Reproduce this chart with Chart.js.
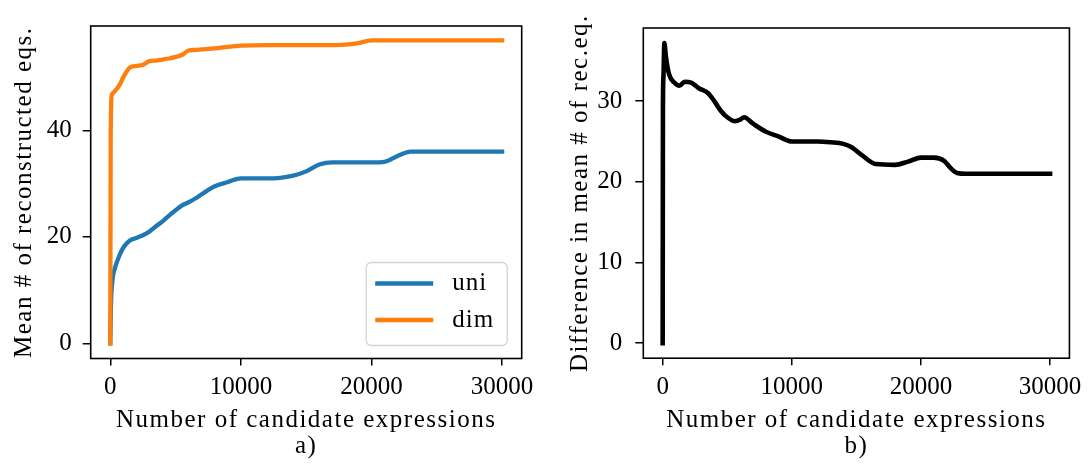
<!DOCTYPE html>
<html><head><meta charset="utf-8">
<script src="https://cdn.jsdelivr.net/npm/chart.js@4/dist/chart.umd.min.js"></script>
<style>
html,body{margin:0;padding:0;background:#fff;}
#wrap{position:relative;width:1089px;height:464px;overflow:hidden;background:#fff;}
canvas{position:absolute;top:0;}
</style></head><body>
<div id="wrap">
<canvas id="ca" width="545" height="464" style="left:0px"></canvas>
<canvas id="cb" width="544" height="464" style="left:545px"></canvas>
</div>
<script>
// ---- data ----
const uniX = [0, 50, 100, 200, 400, 700, 1000, 1500, 2000, 2500, 3000, 3500, 4000, 4500, 5000, 5500, 6000, 6500, 7000, 8000, 9000, 10000, 11000, 12000, 13000, 14000, 15000, 16000, 17000, 18000, 19000, 20000, 21000, 22000, 23000, 25000, 30000];
const uniY = [0, 7, 10, 12.5, 14.5, 16.5, 18, 19.3, 19.8, 20.3, 21, 22, 22.9, 24, 25, 25.9, 26.5, 27.2, 28, 29.5, 30.3, 31, 31, 31, 31.1, 31.5, 32.3, 33.6, 34, 34, 34, 34, 34.1, 35.2, 36, 36, 36];

const dimX = [0, 30, 100, 200, 400, 700, 1000, 1500, 2000, 2500, 3000, 3500, 4000, 4500, 5000, 5500, 6000, 6500, 7000, 8000, 9000, 10000, 12000, 14000, 16000, 18000, 19000, 20000, 22000, 25000, 30000];
const dimY = [0, 38, 46.5, 47, 47.5, 48.5, 50, 51.8, 52.1, 52.3, 53, 53.1, 53.3, 53.5, 53.8, 54.2, 55, 55.1, 55.2, 55.4, 55.7, 55.9, 56, 56, 56, 56.1, 56.4, 56.9, 56.9, 56.9, 56.9];

const diffX = [0, 20, 60, 130, 250, 500, 900, 1300, 1700, 2200, 2800, 3500, 4000, 4500, 5000, 5600, 6000, 6300, 7000, 8000, 9000, 10000, 12000, 13000, 14000, 14600, 15500, 16500, 18000, 19000, 20000, 21000, 21800, 22300, 22800, 23500, 30000];
const diffY = [0, 29, 33, 37.2, 35.5, 33.3, 32.3, 31.9, 32.4, 32.3, 31.6, 31.0, 30.0, 28.8, 28.0, 27.5, 27.7, 28.0, 27.2, 26.2, 25.6, 25.0, 25.0, 24.9, 24.7, 24.3, 23.2, 22.2, 22.1, 22.5, 23.0, 23.0, 22.6, 21.7, 21.1, 21.0, 21.0];

const xTicks = [0, 10000, 20000, 30000];
const yTicksA = [0, 20, 40];
const yTicksB = [0, 10, 20, 30];
const seriesNames = ['uni', 'dim'];
const xTitle = 'Number of candidate expressions';
const yTitleA = 'Mean # of reconstructed eqs.';
const yTitleB = 'Difference in mean # of rec.eq.';
const panelA = 'a)';
const panelB = 'b)';

// ---- rendering ----
const FONT = "'Liberation Serif', 'DejaVu Serif', serif";
const FS = 25;
Chart.defaults.font.family = FONT;
Chart.defaults.font.size = FS;
Chart.defaults.color = '#000';

// wider letter spacing for axis titles (reference font is wider than Times)
const _origDrawTitle = Chart.Scale.prototype.drawTitle;
Chart.Scale.prototype.drawTitle = function(){
  const ctx = this.ctx;
  ctx.save();
  try { ctx.letterSpacing = '1.5px'; } catch(e) {}
  _origDrawTitle.apply(this, arguments);
  ctx.restore();
};

function pts(xs, ys){ return xs.map((x,i)=>({x:x, y:ys[i]})); }

const framePlugin = {
  id: 'frame',
  afterDatasetsDraw(chart){
    const a = chart.chartArea, ctx = chart.ctx;
    ctx.save();
    ctx.strokeStyle = '#000';
    ctx.lineWidth = 1.6;
    ctx.strokeRect(a.left, a.top, a.right - a.left, a.bottom - a.top);
    ctx.restore();
  }
};

const legendPlugin = {
  id: 'mplLegend',
  afterDraw(chart, args, opts){
    if (!opts || !opts.show) return;
    const a = chart.chartArea, ctx = chart.ctx;
    const w = 141, h = 83;
    const x0 = a.right - 14.5 - w, y0 = a.bottom - 13 - h;
    ctx.save();
    ctx.beginPath();
    ctx.roundRect(x0, y0, w, h, 5);
    ctx.fillStyle = 'rgba(255,255,255,0.85)';
    ctx.fill();
    ctx.strokeStyle = '#d3d3d3';
    ctx.lineWidth = 1.3;
    ctx.stroke();
    const rows = [21, 57.5];
    chart.data.datasets.forEach((ds, i) => {
      const y = y0 + rows[i];
      ctx.beginPath();
      ctx.moveTo(x0 + 9, y);
      ctx.lineTo(x0 + 67, y);
      ctx.strokeStyle = ds.borderColor;
      ctx.lineWidth = 4.3;
      ctx.lineCap = 'butt';
      ctx.stroke();
      ctx.fillStyle = '#000';
      ctx.font = FS + 'px ' + FONT;
      try { ctx.letterSpacing = '1px'; } catch(e) {}
      ctx.textBaseline = 'middle';
      ctx.textAlign = 'left';
      ctx.fillText(ds.label, x0 + 86, y);
    });
    ctx.restore();
  }
};

function makeChart(id, datasets, cfg){
  return new Chart(document.getElementById(id), {
    type: 'line',
    data: { datasets: datasets },
    plugins: [framePlugin, legendPlugin],
    options: {
      responsive: false,
      animation: false,
      devicePixelRatio: 1,
      layout: { padding: { top: 23.3, right: cfg.padRight, left: 0, bottom: 0 } },
      plugins: { legend: { display: false }, tooltip: { enabled: false }, mplLegend: { show: cfg.legend } },
      elements: { point: { radius: 0 }, line: { borderWidth: 4.3, cubicInterpolationMode: 'monotone', borderCapStyle: 'square', borderJoinStyle: 'round', fill: false } },
      scales: {
        x: {
          type: 'linear',
          min: -1500, max: 31500,
          afterFit(s){ s.height = cfg.xH; },
          afterBuildTicks(s){ s.ticks = xTicks.map(v => ({value: v})); },
          border: { display: false },
          grid: { drawOnChartArea: false, drawTicks: true, tickLength: 7, tickColor: '#000', lineWidth: 1.5 },
          ticks: { padding: 7, maxRotation: 0, autoSkip: false, callback: v => String(v), font: { size: FS, lineHeight: 1.2 } },
          title: { display: true, text: [xTitle, cfg.panel], font: { size: FS, lineHeight: 1.05 }, padding: { top: 0, bottom: 4 } }
        },
        y: {
          type: 'linear',
          min: cfg.yMin, max: cfg.yMax,
          afterFit(s){ s.width = cfg.yW; },
          afterBuildTicks(s){ s.ticks = cfg.yTicks.map(v => ({value: v})); },
          border: { display: false },
          grid: { drawOnChartArea: false, drawTicks: true, tickLength: 8, tickColor: '#000', lineWidth: 1.5 },
          ticks: { padding: cfg.yPad, autoSkip: false, callback: v => String(v), font: { size: FS } },
          title: { display: true, text: cfg.yTitle, font: { size: FS, lineHeight: 1.2 }, padding: { top: cfg.yTitlePad, bottom: 0 } }
        }
      }
    }
  });
}

makeChart('ca', [
  { label: seriesNames[0], data: pts(uniX, uniY), borderColor: '#1f77b4', order: 1 },
  { label: seriesNames[1], data: pts(dimX, dimY), borderColor: '#ff7f0e', order: 0 }
], { padRight: 23.3, xH: 105.5, yW: 90.7, yMin: -2.84, yMax: 59.6, yTicks: yTicksA, yPad: 11, yTitle: yTitleA, yTitlePad: 9, panel: panelA, legend: true });

makeChart('cb', [
  { label: 'diff', data: pts(diffX, diffY), borderColor: '#000', borderWidth: 4.6 }
], { padRight: 15, xH: 105.8, yW: 98.3, yMin: -1.86, yMax: 39.06, yTicks: yTicksB, yPad: 13, yTitle: yTitleB, yTitlePad: 20, panel: panelB, legend: false });
</script>
</body></html>
